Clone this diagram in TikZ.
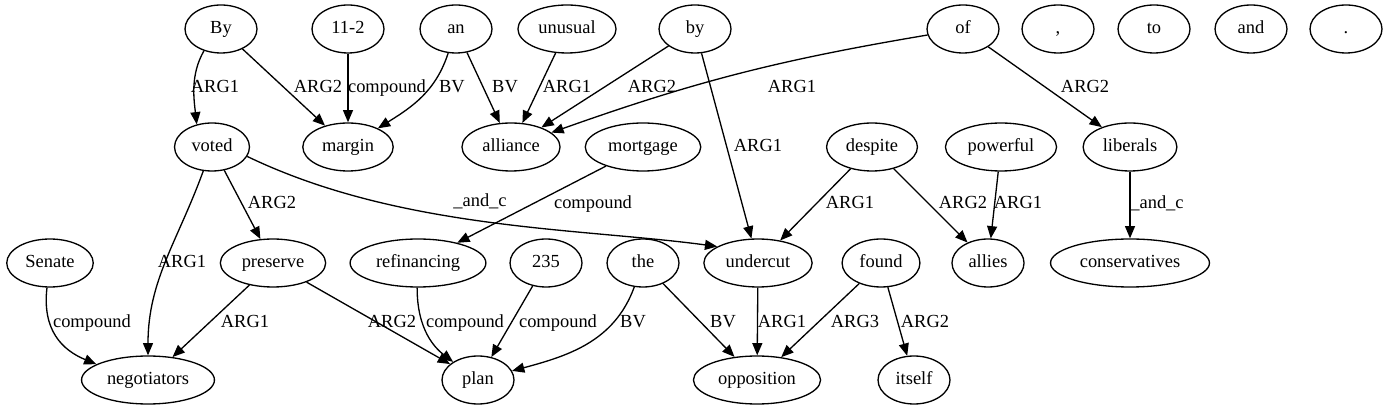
\documentclass[tikz,border=0pt]{standalone}
\usepackage{fontspec}
\setmainfont{Liberation Serif}
\usetikzlibrary{shapes.geometric,arrows.meta}
\tikzstyle{word}=[ellipse, draw, line width=0.75pt, minimum width=1.44cm, minimum height=0.96cm, inner xsep=0.12cm, inner ysep=0pt, text height=1.6ex, text depth=0.4ex, font=\fontsize{10.5}{12}\selectfont]
\tikzstyle{dep}=[-{Triangle[length=7pt,width=5.7pt]}, line width=0.75pt]
\tikzstyle{lbl}=[inner sep=0pt, text height=1.6ex, text depth=0.4ex, font=\fontsize{10.5}{12}\selectfont]
\newcommand{\rowA}{29}
\newcommand{\rowB}{147}
\newcommand{\rowC}{263}
\newcommand{\rowD}{380}
\begin{document}
\begin{tikzpicture}[x=0.02cm, y=-0.02cm]
\useasboundingbox (0,0) rectangle (1388,411);
% top row
\node[word] (By) at (221,\rowA) {By};
\node[word] (n112) at (348,\rowA) {11-2};
\node[word] (an) at (456,\rowA) {an};
\node[word] (unusual) at (567,\rowA) {unusual};
\node[word] (by) at (695,\rowA) {by};
\node[word] (of) at (963,\rowA) {of};
\node[word] (comma) at (1058,\rowA) {,};
\node[word] (to) at (1154,\rowA) {to};
\node[word] (and) at (1251,\rowA) {and};
\node[word] (stop) at (1346,\rowA) {.};
% second row
\node[word] (voted) at (212,\rowB) {voted};
\node[word] (margin) at (348,\rowB) {margin};
\node[word] (alliance) at (511,\rowB) {alliance};
\node[word] (mortgage) at (643,\rowB) {mortgage};
\node[word] (despite) at (872,\rowB) {despite};
\node[word] (powerful) at (1001,\rowB) {powerful};
\node[word] (liberals) at (1130,\rowB) {liberals};
% third row
\node[word] (Senate) at (50,\rowC) {Senate};
\node[word] (preserve) at (273,\rowC) {preserve};
\node[word] (refinancing) at (418,\rowC) {refinancing};
\node[word] (n235) at (546,\rowC) {235};
\node[word] (the) at (643,\rowC) {the};
\node[word] (undercut) at (758,\rowC) {undercut};
\node[word] (found) at (881,\rowC) {found};
\node[word] (allies) at (988,\rowC) {allies};
\node[word] (conservatives) at (1130,\rowC) {conservatives};
% bottom row
\node[word] (negotiators) at (148,\rowD) {negotiators};
\node[word] (plan) at (478,\rowD) {plan};
\node[word] (opposition) at (757,\rowD) {opposition};
\node[word] (itself) at (914,\rowD) {itself};
% edges
\draw[dep] (By.-128) .. controls (190,75) and (194,100) .. (voted.124) node[lbl] at (215,88) {ARG1};
\draw[dep] (By) -- (margin) node[lbl] at (318,88) {ARG2};
\draw[dep] (n112) -- (margin) node[lbl] at (387,88) {compound};
\draw[dep] (an) to[out=-108,in=32] (margin) node[lbl] at (452,88) {BV};
\draw[dep] (an) -- (alliance) node[lbl] at (505,88) {BV};
\draw[dep] (unusual) -- (alliance) node[lbl] at (567,88) {ARG1};
\draw[dep] (by) -- (alliance) node[lbl] at (652,88) {ARG2};
\draw[dep] (of) to[bend right=5] (alliance) node[lbl] at (792,88) {ARG1};
\draw[dep] (by) -- (undercut) node[lbl] at (758,147) {ARG1};
\draw[dep] (of) -- (liberals) node[lbl] at (1085,88) {ARG2};
\draw[dep] (voted.-15) .. controls (400,230) and (580,228) .. (undercut.158) node[lbl] at (480,202) {\_and\_c};
\draw[dep] (voted) to[out=-110,in=90] (negotiators) node[lbl] at (182,263) {ARG1};
\draw[dep] (voted) -- (preserve) node[lbl] at (272,204) {ARG2};
\draw[dep] (mortgage) -- (refinancing) node[lbl] at (593,204) {compound};
\draw[dep] (despite) -- (undercut) node[lbl] at (850,204) {ARG1};
\draw[dep] (despite) -- (allies) node[lbl] at (963,204) {ARG2};
\draw[dep] (powerful) -- (allies) node[lbl] at (1018,204) {ARG1};
\draw[dep] (liberals) -- (conservatives) node[lbl] at (1157,204) {\_and\_c};
\draw[dep] (Senate.-97) .. controls (42,330) and (62,350) .. (negotiators.163) node[lbl] at (92,323) {compound};
\draw[dep] (preserve) -- (negotiators) node[lbl] at (245,323) {ARG1};
\draw[dep] (preserve) -- (plan) node[lbl] at (392,323) {ARG2};
\draw[dep] (refinancing.-92) .. controls (417,330) and (435,348) .. (plan.144) node[lbl] at (465,323) {compound};
\draw[dep] (n235) -- (plan) node[lbl] at (558,323) {compound};
\draw[dep] (the) to[out=-110,in=15] (plan) node[lbl] at (633,323) {BV};
\draw[dep] (the) -- (opposition) node[lbl] at (723,323) {BV};
\draw[dep] (undercut) -- (opposition) node[lbl] at (782,323) {ARG1};
\draw[dep] (found) -- (opposition) node[lbl] at (855,323) {ARG3};
\draw[dep] (found) -- (itself) node[lbl] at (925,323) {ARG2};
\end{tikzpicture}
\end{document}
